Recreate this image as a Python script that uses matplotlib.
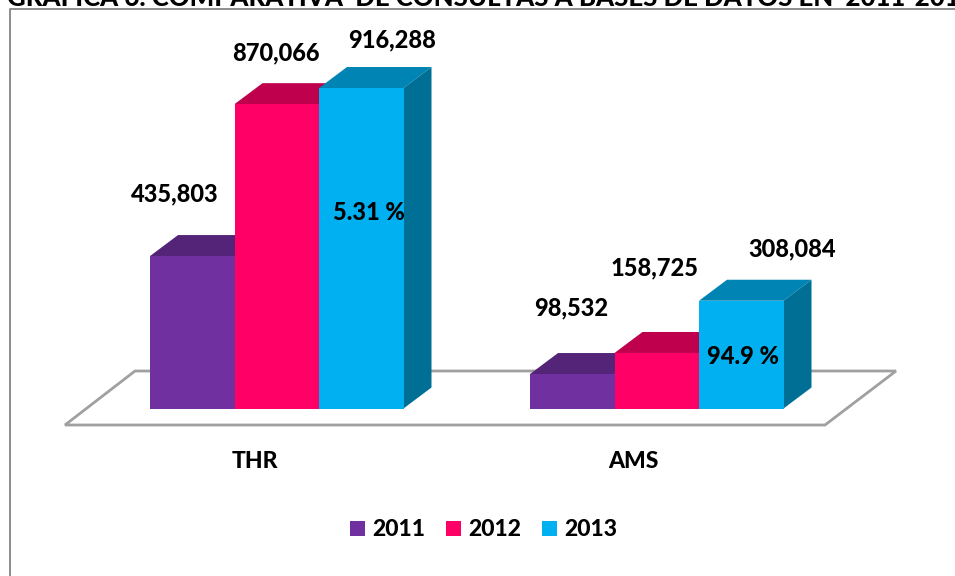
import matplotlib
matplotlib.use("Agg")
import matplotlib.pyplot as plt
from matplotlib.patches import Polygon, Rectangle
from matplotlib.transforms import Affine2D

plt.rcParams['font.family'] = ['Lato', 'DejaVu Sans']

title = "GRAFICA 6. COMPARATIVA  DE CONSULTAS A BASES DE DATOS EN  2011-2013"
categories = ["THR", "AMS"]
years = ["2011", "2012", "2013"]
values_2011 = [435803, 98532]
values_2012 = [870066, 158725]
values_2013 = [916288, 308084]
series = [values_2011, values_2012, values_2013]
percent_labels = ["5.31 %", "94.9 %"]

front_colors = ["#7030A0", "#FF0066", "#00B0F0"]
top_colors = ["#542478", "#BF004D", "#0084B4"]
side_colors = ["#431D60", "#99003D", "#006F96"]

W, H = 955, 576
fig = plt.figure(figsize=(W / 100, H / 100), dpi=100)
ax = fig.add_axes([0, 0, 1, 1])
ax.axis("off")

# one category = 380 px, value scale set so 916288 sits 320.5 px above the floor line
px_per_cat = 380.0
px_per_val = 320.5 / 916288
x0_px, y0_px = 276.75, 408.5
ax.set_xlim(-x0_px / px_per_cat, (W - x0_px) / px_per_cat)
ax.set_ylim(-(H - y0_px) / px_per_val, y0_px / px_per_val)

# pixel coords, y going down, for the frame and other decoration
px = Affine2D().scale(1, -1).translate(0, H)

bar_w = 84.5 / px_per_cat
depth_x = 28 / px_per_cat
depth_y = 21 / px_per_val

# frame
ax.plot([9.5, 9.5, W], [H, 8.5, 8.5], color="#8C8C8C", lw=1.4, transform=px, clip_on=False)

# floor
ax.add_patch(Polygon([(65, 425), (825, 425), (896, 371), (135, 371)], closed=True,
                     fc="white", ec="#A0A0A0", lw=2, transform=px))

for c in range(len(categories)):
    for s in range(len(series)):
        v = series[s][c]
        left = c + (s - 1.5) * bar_w
        right = left + bar_w
        ax.add_patch(Polygon([(left, v), (right, v), (right + depth_x, v + depth_y), (left + depth_x, v + depth_y)],
                             closed=True, fc=top_colors[s], ec="none"))
        ax.add_patch(Polygon([(right, 0), (right + depth_x, depth_y), (right + depth_x, v + depth_y), (right, v)],
                             closed=True, fc=side_colors[s], ec="none"))
        ax.add_patch(Rectangle((left, 0), bar_w, v, fc=front_colors[s], ec="none"))

fs = 17
wt = 900
label_pos = [[(175, 194), (571, 308)], [(276, 53), (655, 268)], [(392, 40), (792, 249)]]
for s in range(len(series)):
    for c in range(len(categories)):
        ax.text(label_pos[s][c][0], label_pos[s][c][1], format(series[s][c], ","), transform=px,
                ha="center", va="center", fontsize=fs, fontweight=wt, color="black")

pct_pos = [(369, 213), (743, 356)]
for c in range(len(categories)):
    ax.text(pct_pos[c][0], pct_pos[c][1], percent_labels[c], transform=px,
            ha="center", va="center", fontsize=fs, fontweight=wt, color="black")

cat_pos = [254.5, 633]
for c in range(len(categories)):
    ax.text(cat_pos[c], 461, categories[c], transform=px, ha="center", va="center",
            fontsize=16.5, fontweight=wt, color="black")

# legend
leg_x = [350, 446, 542]
for s in range(len(years)):
    ax.add_patch(Rectangle((leg_x[s], 521), 15, 15, fc=front_colors[s], ec="none", transform=px))
    ax.text(leg_x[s] + 22, 529.5, years[s], transform=px, ha="left", va="center",
            fontsize=16.5, fontweight=wt, color="black")

# title is cut off by the top edge of the image
ax.text(7, 6, title, transform=px, ha="left", va="baseline", fontsize=18.5,
        fontweight=wt, color="black", clip_on=True)

fig.savefig("out.png", dpi=100)
